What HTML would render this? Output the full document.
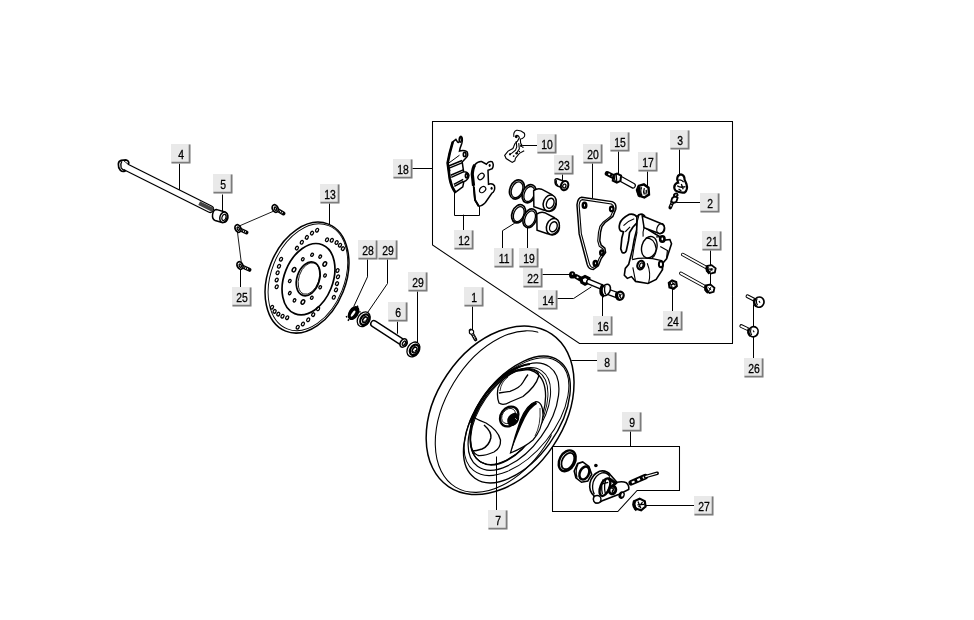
<!DOCTYPE html>
<html><head><meta charset="utf-8"><style>
html,body{margin:0;padding:0;background:#fff;}
svg{display:block;will-change:transform;}
.z *{vector-effect:non-scaling-stroke;}
text{font-family:"Liberation Sans",sans-serif;font-size:13px;fill:#000;}
</style></head><body>
<svg width="974" height="620" viewBox="0 0 974 620">
<rect width="974" height="620" fill="#fff"/>
<path d="M432.5 121.5 L732.5 121.5 L732.5 343.5 L579.5 343.5 L432.5 245.0 L432.5 121.5" stroke="#000" stroke-width="1.05" fill="none" stroke-linejoin="miter" stroke-linecap="square"/>
<path d="M179.5 164.0 L179.5 189.4" stroke="#000" stroke-width="1.0" fill="none" stroke-linejoin="miter" stroke-linecap="square"/>
<path d="M222.5 195.0 L222.5 210.6" stroke="#000" stroke-width="1.0" fill="none" stroke-linejoin="miter" stroke-linecap="square"/>
<path d="M329.5 203.0 L329.5 224.0" stroke="#000" stroke-width="1.0" fill="none" stroke-linejoin="miter" stroke-linecap="square"/>
<path d="M240.5 269.4 L240.5 288.0" stroke="#000" stroke-width="1.0" fill="none" stroke-linejoin="miter" stroke-linecap="square"/>
<path d="M367.5 259.0 L367.5 276.8 L354.0 306.0" stroke="#000" stroke-width="1.0" fill="none" stroke-linejoin="miter" stroke-linecap="square"/>
<path d="M387.5 259.0 L387.5 283.5 L368.2 311.7" stroke="#000" stroke-width="1.0" fill="none" stroke-linejoin="miter" stroke-linecap="square"/>
<path d="M397.5 322.0 L397.5 333.2" stroke="#000" stroke-width="1.0" fill="none" stroke-linejoin="miter" stroke-linecap="square"/>
<path d="M417.5 290.5 L417.5 343.4" stroke="#000" stroke-width="1.0" fill="none" stroke-linejoin="miter" stroke-linecap="square"/>
<path d="M412.5 168.5 L432.2 168.5" stroke="#000" stroke-width="1.0" fill="none" stroke-linejoin="miter" stroke-linecap="square"/>
<path d="M454.5 192.5 L454.5 215.5 L479.5 215.5 L479.5 204.9" stroke="#000" stroke-width="1.0" fill="none" stroke-linejoin="miter" stroke-linecap="square"/>
<path d="M463.5 215.2 L463.5 230.7" stroke="#000" stroke-width="1.0" fill="none" stroke-linejoin="miter" stroke-linecap="square"/>
<path d="M523.0 145.5 L537.7 145.5" stroke="#000" stroke-width="1.0" fill="none" stroke-linejoin="miter" stroke-linecap="square"/>
<path d="M562.5 174.5 L562.5 181.5" stroke="#000" stroke-width="1.0" fill="none" stroke-linejoin="miter" stroke-linecap="square"/>
<path d="M592.5 163.5 L592.5 197.5" stroke="#000" stroke-width="1.0" fill="none" stroke-linejoin="miter" stroke-linecap="square"/>
<path d="M502.5 248.0 L502.5 230.7 L514.3 223.4" stroke="#000" stroke-width="1.0" fill="none" stroke-linejoin="miter" stroke-linecap="square"/>
<path d="M527.5 248.0 L527.5 225.8" stroke="#000" stroke-width="1.0" fill="none" stroke-linejoin="miter" stroke-linecap="square"/>
<path d="M618.5 151.0 L618.5 175.5" stroke="#000" stroke-width="1.0" fill="none" stroke-linejoin="miter" stroke-linecap="square"/>
<path d="M647.5 171.5 L647.5 186.8" stroke="#000" stroke-width="1.0" fill="none" stroke-linejoin="miter" stroke-linecap="square"/>
<path d="M679.5 149.5 L679.5 175.5" stroke="#000" stroke-width="1.0" fill="none" stroke-linejoin="miter" stroke-linecap="square"/>
<path d="M677.5 202.5 L699.6 202.5" stroke="#000" stroke-width="1.0" fill="none" stroke-linejoin="miter" stroke-linecap="square"/>
<path d="M710.5 249.4 L710.5 289.4" stroke="#000" stroke-width="1.0" fill="none" stroke-linejoin="miter" stroke-linecap="square"/>
<path d="M541.2 274.5 L569.7 274.5" stroke="#000" stroke-width="1.0" fill="none" stroke-linejoin="miter" stroke-linecap="square"/>
<path d="M556.7 298.5 L573.6 298.5 L591.0 287.1" stroke="#000" stroke-width="1.0" fill="none" stroke-linejoin="miter" stroke-linecap="square"/>
<path d="M602.5 316.6 L602.5 293.9" stroke="#000" stroke-width="1.0" fill="none" stroke-linejoin="miter" stroke-linecap="square"/>
<path d="M672.5 289.4 L672.5 312.0" stroke="#000" stroke-width="1.0" fill="none" stroke-linejoin="miter" stroke-linecap="square"/>
<path d="M753.5 304.8 L753.5 358.0" stroke="#000" stroke-width="1.0" fill="none" stroke-linejoin="miter" stroke-linecap="square"/>
<path d="M472.5 306.4 L472.5 330.0" stroke="#000" stroke-width="1.0" fill="none" stroke-linejoin="miter" stroke-linecap="square"/>
<path d="M571.8 360.5 L597.5 360.5" stroke="#000" stroke-width="1.0" fill="none" stroke-linejoin="miter" stroke-linecap="square"/>
<path d="M496.5 457.0 L496.5 510.2" stroke="#000" stroke-width="1.0" fill="none" stroke-linejoin="miter" stroke-linecap="square"/>
<path d="M630.5 431.5 L630.5 446.1" stroke="#000" stroke-width="1.0" fill="none" stroke-linejoin="miter" stroke-linecap="square"/>
<path d="M644.9 505.5 L694.2 505.5" stroke="#000" stroke-width="1.0" fill="none" stroke-linejoin="miter" stroke-linecap="square"/>
<ellipse cx="500.1" cy="410.3" rx="92.1" ry="63.9" transform="rotate(-55.9 500.1 410.3)" stroke="#000" stroke-width="1.5" fill="none"/>
<clipPath id="tc"><path d="M534 300 L380 300 L380 540 L620 540 L620 438 L552 438 Z"/></clipPath>
<g clip-path="url(#tc)"><ellipse cx="501.1" cy="411.6" rx="88.2" ry="55.5" transform="rotate(-58.9 501.1 411.6)" stroke="#000" stroke-width="1.1" fill="none"/></g>
<ellipse cx="516.9" cy="419.5" rx="72.2" ry="40.5" transform="rotate(-54.4 516.9 419.5)" stroke="#000" stroke-width="1.4" fill="none"/>
<ellipse cx="516.5" cy="416.7" rx="68.8" ry="38.1" transform="rotate(-51.3 516.5 416.7)" stroke="#000" stroke-width="1.0" fill="none"/>
<ellipse cx="513.5" cy="416.6" rx="61.4" ry="34.1" transform="rotate(-54.1 513.5 416.6)" stroke="#000" stroke-width="1.2" fill="none"/>
<ellipse cx="510.6" cy="416.0" rx="54.8" ry="30.4" transform="rotate(-55.3 510.6 416.0)" stroke="#000" stroke-width="1.0" fill="none"/>
<ellipse cx="509.2" cy="416.5" rx="53.6" ry="30.6" transform="rotate(-57.3 509.2 416.5)" stroke="#000" stroke-width="0.9" fill="none"/>
<ellipse cx="507.8" cy="417.0" rx="52.5" ry="31.0" transform="rotate(-59.3 507.8 417.0)" stroke="#000" stroke-width="1.3" fill="none"/>
<path d="M471 423 Q478 398 500 378 Q515 366 530 364" stroke="#000" stroke-width="2.2" fill="none"/>
<path d="M498 388 Q503 376 517 371 L529.4 369.4 Q540 370 538.4 377 Q536 386 523 396.5 L510 402 Q503 406 499 403 Q496.5 397 498 388 Z" stroke="#000" stroke-width="1.3" fill="none"/>
<path d="M499 393 Q505 392 510 391.3 Q520 388 523 382.3 Q526 377 528 374.5" stroke="#000" stroke-width="1.3" fill="none"/>
<path d="M500 391 Q501 382 508 377" stroke="#000" stroke-width="0.8" fill="none"/>
<path d="M473 417 Q478 420 486 423 Q498 430 500.5 440 Q501 448 494 452 Q485 456 478 455.5 Q471 453 470.5 440 Q470 425 473 417 Z" stroke="#000" stroke-width="1.3" fill="none"/>
<path d="M484 425 Q492 432 490.8 438 Q489 446 482 449 Q476 451 472.4 451.1" stroke="#000" stroke-width="1.5" fill="none"/>
<path d="M536 401.5 Q527 404 520.5 420 Q515 436 510.5 453 Q525 447 533 440 Q542 430 543 415 Q543 402 536 401.5 Z" stroke="#000" stroke-width="1.2" fill="#fff"/>
<path d="M536 401.5 Q527 404 520.5 420 Q515 436 510.5 453 Q519 430 525 418 Q530 408 537 404 Z" fill="#000"/>
<path d="M540 408 Q541 425 535 436" stroke="#000" stroke-width="0.8" fill="none"/>
<ellipse cx="509.2" cy="416.5" rx="10.6" ry="8.4" transform="rotate(-55.0 509.2 416.5)" stroke="#000" stroke-width="2.3" fill="#fff"/>
<ellipse cx="508.6" cy="416.0" rx="8.2" ry="6.2" transform="rotate(-55.0 508.6 416.0)" stroke="#000" stroke-width="0.8" fill="none"/>
<ellipse cx="513.2" cy="419.4" rx="7.0" ry="5.4" transform="rotate(-55 513.2 419.4)" fill="#000"/>
<path d="M515 418 L517 420" stroke="#fff" stroke-width="0.6" fill="none"/>
<ellipse cx="307.0" cy="277.6" rx="57.6" ry="38.8" transform="rotate(-68.2 307.0 277.6)" stroke="#000" stroke-width="1.5" fill="none"/>
<ellipse cx="307.9" cy="277.3" rx="55.6" ry="36.6" transform="rotate(-68.2 307.9 277.3)" stroke="#000" stroke-width="0.9" fill="none"/>
<ellipse cx="308.5" cy="279.2" rx="37.1" ry="24.3" transform="rotate(-68.2 308.5 279.2)" stroke="#000" stroke-width="1.7" fill="none"/>
<ellipse cx="308.2" cy="278.8" rx="17.5" ry="11.2" transform="rotate(-71.7 308.2 278.8)" stroke="#000" stroke-width="1.7" fill="none"/>
<ellipse cx="308.9" cy="278.5" rx="16.3" ry="10.0" transform="rotate(-71.7 308.9 278.5)" stroke="#000" stroke-width="0.8" fill="none"/>
<ellipse cx="296.9" cy="248.1" rx="1.4" ry="1.9" transform="rotate(30.0 296.9 248.1)" stroke="#000" stroke-width="1.3" fill="none"/>
<ellipse cx="301.8" cy="242.3" rx="1.4" ry="1.9" transform="rotate(30.0 301.8 242.3)" stroke="#000" stroke-width="1.3" fill="none"/>
<ellipse cx="306.8" cy="237.4" rx="1.4" ry="1.9" transform="rotate(30.0 306.8 237.4)" stroke="#000" stroke-width="1.3" fill="none"/>
<ellipse cx="312.0" cy="233.1" rx="1.4" ry="1.9" transform="rotate(30.0 312.0 233.1)" stroke="#000" stroke-width="1.3" fill="none"/>
<ellipse cx="317.1" cy="230.2" rx="1.4" ry="1.9" transform="rotate(30.0 317.1 230.2)" stroke="#000" stroke-width="1.3" fill="none"/>
<ellipse cx="327.0" cy="239.8" rx="1.4" ry="1.9" transform="rotate(30.0 327.0 239.8)" stroke="#000" stroke-width="1.3" fill="none"/>
<ellipse cx="331.8" cy="240.3" rx="1.4" ry="1.9" transform="rotate(30.0 331.8 240.3)" stroke="#000" stroke-width="1.3" fill="none"/>
<ellipse cx="336.6" cy="242.5" rx="1.4" ry="1.9" transform="rotate(30.0 336.6 242.5)" stroke="#000" stroke-width="1.3" fill="none"/>
<ellipse cx="340.0" cy="245.2" rx="1.4" ry="1.9" transform="rotate(30.0 340.0 245.2)" stroke="#000" stroke-width="1.3" fill="none"/>
<ellipse cx="342.9" cy="248.6" rx="1.4" ry="1.9" transform="rotate(30.0 342.9 248.6)" stroke="#000" stroke-width="1.3" fill="none"/>
<ellipse cx="337.5" cy="270.5" rx="1.4" ry="1.9" transform="rotate(30.0 337.5 270.5)" stroke="#000" stroke-width="1.3" fill="none"/>
<ellipse cx="338.0" cy="276.8" rx="1.4" ry="1.9" transform="rotate(30.0 338.0 276.8)" stroke="#000" stroke-width="1.3" fill="none"/>
<ellipse cx="337.0" cy="283.6" rx="1.4" ry="1.9" transform="rotate(30.0 337.0 283.6)" stroke="#000" stroke-width="1.3" fill="none"/>
<ellipse cx="336.0" cy="289.9" rx="1.4" ry="1.9" transform="rotate(30.0 336.0 289.9)" stroke="#000" stroke-width="1.3" fill="none"/>
<ellipse cx="333.8" cy="297.3" rx="1.4" ry="1.9" transform="rotate(30.0 333.8 297.3)" stroke="#000" stroke-width="1.3" fill="none"/>
<ellipse cx="318.1" cy="308.8" rx="1.4" ry="1.9" transform="rotate(30.0 318.1 308.8)" stroke="#000" stroke-width="1.3" fill="none"/>
<ellipse cx="313.2" cy="314.6" rx="1.4" ry="1.9" transform="rotate(30.0 313.2 314.6)" stroke="#000" stroke-width="1.3" fill="none"/>
<ellipse cx="308.2" cy="319.8" rx="1.4" ry="1.9" transform="rotate(30.0 308.2 319.8)" stroke="#000" stroke-width="1.3" fill="none"/>
<ellipse cx="302.9" cy="324.0" rx="1.4" ry="1.9" transform="rotate(30.0 302.9 324.0)" stroke="#000" stroke-width="1.3" fill="none"/>
<ellipse cx="297.7" cy="327.2" rx="1.4" ry="1.9" transform="rotate(30.0 297.7 327.2)" stroke="#000" stroke-width="1.3" fill="none"/>
<ellipse cx="272.0" cy="307.2" rx="1.4" ry="1.9" transform="rotate(30.0 272.0 307.2)" stroke="#000" stroke-width="1.3" fill="none"/>
<ellipse cx="274.6" cy="311.4" rx="1.4" ry="1.9" transform="rotate(30.0 274.6 311.4)" stroke="#000" stroke-width="1.3" fill="none"/>
<ellipse cx="278.3" cy="314.1" rx="1.4" ry="1.9" transform="rotate(30.0 278.3 314.1)" stroke="#000" stroke-width="1.3" fill="none"/>
<ellipse cx="282.5" cy="316.2" rx="1.4" ry="1.9" transform="rotate(30.0 282.5 316.2)" stroke="#000" stroke-width="1.3" fill="none"/>
<ellipse cx="287.2" cy="317.7" rx="1.4" ry="1.9" transform="rotate(30.0 287.2 317.7)" stroke="#000" stroke-width="1.3" fill="none"/>
<ellipse cx="281.0" cy="259.2" rx="1.4" ry="1.9" transform="rotate(30.0 281.0 259.2)" stroke="#000" stroke-width="1.3" fill="none"/>
<ellipse cx="279.0" cy="266.3" rx="1.4" ry="1.9" transform="rotate(30.0 279.0 266.3)" stroke="#000" stroke-width="1.3" fill="none"/>
<ellipse cx="277.6" cy="272.8" rx="1.4" ry="1.9" transform="rotate(30.0 277.6 272.8)" stroke="#000" stroke-width="1.3" fill="none"/>
<ellipse cx="276.7" cy="280.0" rx="1.4" ry="1.9" transform="rotate(30.0 276.7 280.0)" stroke="#000" stroke-width="1.3" fill="none"/>
<ellipse cx="276.7" cy="286.8" rx="1.4" ry="1.9" transform="rotate(30.0 276.7 286.8)" stroke="#000" stroke-width="1.3" fill="none"/>
<ellipse cx="302.8" cy="259.2" rx="1.2" ry="1.7" transform="rotate(30.0 302.8 259.2)" stroke="#000" stroke-width="1.3" fill="none"/>
<ellipse cx="312.1" cy="254.8" rx="1.2" ry="1.7" transform="rotate(30.0 312.1 254.8)" stroke="#000" stroke-width="1.3" fill="none"/>
<ellipse cx="320.2" cy="256.6" rx="1.2" ry="1.7" transform="rotate(30.0 320.2 256.6)" stroke="#000" stroke-width="1.3" fill="none"/>
<ellipse cx="324.8" cy="264.0" rx="1.6" ry="2.3" transform="rotate(30.0 324.8 264.0)" stroke="#000" stroke-width="1.5" fill="none"/>
<ellipse cx="325.0" cy="275.5" rx="1.2" ry="1.7" transform="rotate(30.0 325.0 275.5)" stroke="#000" stroke-width="1.3" fill="none"/>
<ellipse cx="320.2" cy="287.3" rx="1.2" ry="1.7" transform="rotate(30.0 320.2 287.3)" stroke="#000" stroke-width="1.3" fill="none"/>
<ellipse cx="311.8" cy="297.8" rx="1.2" ry="1.7" transform="rotate(30.0 311.8 297.8)" stroke="#000" stroke-width="1.3" fill="none"/>
<ellipse cx="302.9" cy="302.0" rx="1.6" ry="2.3" transform="rotate(30.0 302.9 302.0)" stroke="#000" stroke-width="1.5" fill="none"/>
<ellipse cx="294.5" cy="300.4" rx="1.2" ry="1.7" transform="rotate(30.0 294.5 300.4)" stroke="#000" stroke-width="1.3" fill="none"/>
<ellipse cx="289.8" cy="293.1" rx="1.2" ry="1.7" transform="rotate(30.0 289.8 293.1)" stroke="#000" stroke-width="1.3" fill="none"/>
<ellipse cx="289.8" cy="281.0" rx="1.2" ry="1.7" transform="rotate(30.0 289.8 281.0)" stroke="#000" stroke-width="1.3" fill="none"/>
<ellipse cx="294.0" cy="269.7" rx="1.6" ry="2.3" transform="rotate(30.0 294.0 269.7)" stroke="#000" stroke-width="1.5" fill="none"/>
<path d="M126 167 L210 209" stroke="#000" stroke-width="8" stroke-linecap="round"/>
<path d="M126 167 L210 209" stroke="#fff" stroke-width="5.4" stroke-linecap="round"/>
<g class="z" transform="translate(112 152) scale(0.04032)">
<path d="M158 300 Q160 228 228 208 L350 198 Q412 214 418 272 L398 300 L298 440 L325 470 Q260 500 210 455 Q150 390 158 300 Z" fill="#fff"/>
<path d="M398 300 L418 272 Q412 214 350 198 L228 208 Q160 228 158 300 Q150 390 210 455 Q260 500 325 470 L300 440" stroke="#000" fill="none" stroke-width="1.7"/>
<path d="M245 232 Q198 300 226 385 Q250 436 300 452" stroke="#000" fill="none" stroke-width="1.3"/>
<path d="M290 215 Q330 250 395 300" stroke="#000" fill="none" stroke-width="0.9"/>
</g>
<path d="M201.0 204.0 L211.0 209.0" stroke="#444" stroke-width="4" fill="none" stroke-linejoin="miter" stroke-linecap="square"/>
<g class="z" transform="translate(110 150) scale(0.12903)">
<path d="M828 462 L886 478 Q918 490 914 525 Q906 566 868 562 L815 546 Q790 536 795 500 Q800 462 828 462 Z" stroke="#000" fill="#fff" stroke-width="1.5"/>
<ellipse cx="880" cy="521" rx="28" ry="41" transform="rotate(18 880 521)" stroke="#000" fill="#fff" stroke-width="1.5"/>
<ellipse cx="883" cy="523" rx="15" ry="25" transform="rotate(18 883 523)" stroke="#000" fill="none" stroke-width="1.2"/>
</g>
<path d="M552.5 446.5 L679.5 446.5 L679.5 490.5 L637.1 490.5 L617.8 511.5 L552.5 511.5 Z" stroke="#000" stroke-width="1.05" fill="#fff"/>
<path d="M237.4 226.8 L273.3 211.3" stroke="#000" stroke-width="0.9" fill="none" stroke-linejoin="miter" stroke-linecap="square"/>
<path d="M237.4 231.6 L241.3 262.6" stroke="#000" stroke-width="0.9" fill="none" stroke-linejoin="miter" stroke-linecap="square"/>
<path d="M275.2 208.5 L283.5 213.5" stroke="#000" stroke-width="4.0" stroke-linecap="round"/>
<path d="M276.7 209.3 L283.0 213.2" stroke="#fff" stroke-width="1.6" stroke-dasharray="0.9 1.1"/>
<ellipse cx="275.2" cy="208.5" rx="2.8" ry="3.9" transform="rotate(-25.0 275.2 208.5)" stroke="#000" stroke-width="1.8" fill="#fff"/>
<ellipse cx="275.5" cy="208.7" rx="1.0" ry="1.8" transform="rotate(-25.0 275.5 208.7)" stroke="#000" stroke-width="1.3" fill="none"/>
<path d="M238.0 228.5 L246.5 232.5" stroke="#000" stroke-width="4.0" stroke-linecap="round"/>
<path d="M239.5 229.3 L246.0 232.2" stroke="#fff" stroke-width="1.6" stroke-dasharray="0.9 1.1"/>
<ellipse cx="238.0" cy="228.5" rx="2.8" ry="3.9" transform="rotate(-25.0 238.0 228.5)" stroke="#000" stroke-width="1.8" fill="#fff"/>
<ellipse cx="238.3" cy="228.7" rx="1.0" ry="1.8" transform="rotate(-25.0 238.3 228.7)" stroke="#000" stroke-width="1.3" fill="none"/>
<path d="M240.0 265.5 L249.5 269.8" stroke="#000" stroke-width="4.0" stroke-linecap="round"/>
<path d="M241.5 266.3 L249.0 269.5" stroke="#fff" stroke-width="1.6" stroke-dasharray="0.9 1.1"/>
<ellipse cx="240.0" cy="265.5" rx="2.8" ry="3.9" transform="rotate(-25.0 240.0 265.5)" stroke="#000" stroke-width="1.8" fill="#fff"/>
<ellipse cx="240.3" cy="265.7" rx="1.0" ry="1.8" transform="rotate(-25.0 240.3 265.7)" stroke="#000" stroke-width="1.3" fill="none"/>
<g class="z" transform="translate(340 295) scale(0.11292)">
<ellipse cx="120" cy="160" rx="44" ry="68" transform="rotate(32 120 160)" fill="#000"/>
<ellipse cx="116" cy="165" rx="11" ry="32" transform="rotate(35 116 165)" fill="#fff"/>
<path d="M80 215 L70 228 M150 105 L160 95 M170 150 L182 148 M65 190 L52 195" stroke="#000" stroke-width="1.5"/>
<ellipse cx="210" cy="215" rx="52" ry="70" transform="rotate(32 210 215)" stroke="#000" stroke-width="1.3" fill="#fff"/>
<ellipse cx="219" cy="219" rx="36" ry="50" transform="rotate(32 219 219)" stroke="#000" stroke-width="2.2" fill="#fff"/>
<ellipse cx="221" cy="220" rx="18" ry="28" transform="rotate(32 221 220)" stroke="#000" stroke-width="1.6" fill="#fff"/>
<path d="M215 175 L225 195 M245 220 L225 225 M205 240 L220 230" stroke="#000" stroke-width="1" fill="none"/>
<path d="M300 255 L566 427" stroke="#000" stroke-width="7.6" stroke-linecap="round"/>
<path d="M300 255 L566 427" stroke="#fff" stroke-width="4.8" stroke-linecap="round"/>
<ellipse cx="562" cy="425" rx="27" ry="40" transform="rotate(32 562 425)" stroke="#000" stroke-width="1.6" fill="#fff"/>
<ellipse cx="566" cy="427" rx="11" ry="22" transform="rotate(32 566 427)" stroke="#000" stroke-width="1.3" fill="none"/>
<ellipse cx="650" cy="482" rx="52" ry="70" transform="rotate(32 650 482)" stroke="#000" stroke-width="1.3" fill="#fff"/>
<ellipse cx="659" cy="486" rx="36" ry="50" transform="rotate(32 659 486)" stroke="#000" stroke-width="2.2" fill="#fff"/>
<ellipse cx="661" cy="487" rx="18" ry="28" transform="rotate(32 661 487)" stroke="#000" stroke-width="1.6" fill="#fff"/>
<path d="M655 442 L665 462 M685 487 L665 492 M645 507 L660 497" stroke="#000" stroke-width="1" fill="none"/></g>
<g class="z" transform="translate(443 132) scale(0.10309)">
<path d="M95 95 L125 72 L140 95 Q150 112 158 90 Q152 50 175 42 Q197 55 182 112 L165 160 L160 185 Q200 172 232 190 Q252 225 222 252 L186 290 L200 385 Q240 383 252 420 Q248 466 202 482 L192 532 L120 586 Q80 530 65 450 L45 300 Q60 210 95 95 Z" stroke="#000" fill="#fff" stroke-width="1.5"/>
<path d="M95 95 Q60 210 45 300 L65 450 Q80 530 120 586" stroke="#000" stroke-width="2.6" fill="none"/>
<path d="M55 330 L185 277 M60 350 L190 297 M75 420 L196 367 M80 440 L198 387 M105 508 L196 460 M110 528 L197 480" stroke="#000" fill="none" stroke-width="1.5"/>
<path d="M58 300 L160 225 M52 320 L70 380" stroke="#000" fill="none" stroke-width="1"/>
<ellipse cx="210" cy="218" rx="13" ry="20" stroke="#000" fill="none" stroke-width="1.6"/>
<ellipse cx="230" cy="425" rx="12" ry="20" stroke="#000" fill="none" stroke-width="1.8"/>
<ellipse cx="172" cy="76" rx="9" ry="24" transform="rotate(10 172 76)" stroke="#000" fill="none" stroke-width="1.3"/>
</g>
<g class="z" transform="translate(440 130) scale(0.12903)">
<path d="M270 270 Q292 243 322 245 L360 265 Q378 238 402 245 Q422 268 405 300 L372 312 L376 420 Q408 410 422 432 Q432 472 400 492 L352 562 Q322 592 300 590 L270 542 L260 432 L250 342 Q254 292 270 270 Z" stroke="#000" fill="#fff" stroke-width="1.5"/>
<path d="M270 270 Q254 292 250 342 L260 432" stroke="#000" stroke-width="3.2" fill="none"/>
<path d="M262 440 L272 542 L300 590" stroke="#000" stroke-width="2" fill="none"/>
<ellipse cx="318" cy="360" rx="28" ry="20" transform="rotate(-45 318 360)" stroke="#000" fill="none" stroke-width="1.2"/>
<ellipse cx="330" cy="462" rx="28" ry="20" transform="rotate(-45 330 462)" stroke="#000" fill="none" stroke-width="1.2"/>
<ellipse cx="385" cy="275" rx="8" ry="11" fill="#000"/>
<ellipse cx="400" cy="452" rx="8" ry="12" fill="#000"/>
</g>
<g class="z" transform="translate(500 125) scale(0.06452)">
<path d="M215 185 Q200 105 258 82 Q325 78 378 128 Q398 182 345 208 L315 218 L320 280 L345 330" stroke="#000" fill="none" stroke-width="1.1"/>
<path d="M245 165 Q290 150 300 200 L270 250 L230 290 L215 330 L200 365 L125 405 L72 470 L95 520 L190 580 L230 555 L240 515 L300 440 L375 398" stroke="#000" fill="none" stroke-width="1.1"/>
<path d="M250 250 L260 340 L240 390 L180 440 L150 455 M290 280 L300 370 L260 430" stroke="#000" fill="none" stroke-width="1.1"/>
<circle cx="252" cy="182" r="22" fill="#000"/><circle cx="330" cy="322" r="20" fill="#000"/><circle cx="355" cy="345" r="12" fill="#000"/>
<circle cx="258" cy="438" r="20" fill="#000"/><circle cx="155" cy="455" r="17" fill="#000"/><circle cx="212" cy="482" r="14" fill="#000"/><circle cx="300" cy="410" r="12" fill="#000"/>
</g>
<g class="z" transform="translate(500 170) scale(0.11291)"><ellipse cx="150" cy="172" rx="62" ry="88" transform="rotate(22 150 172)" stroke="#000" fill="#fff" stroke-width="1.7"/>
<ellipse cx="152" cy="174" rx="48" ry="73" transform="rotate(22 150 172)" stroke="#000" fill="none" stroke-width="1.3"/><ellipse cx="258" cy="210" rx="58" ry="84" transform="rotate(22 258 210)" stroke="#000" fill="#fff" stroke-width="1.7"/>
<ellipse cx="260" cy="212" rx="44" ry="69" transform="rotate(22 258 210)" stroke="#000" fill="none" stroke-width="1.3"/><g transform="translate(0 0)">
<path d="M298 182 Q330 160 368 170 L455 215 Q502 250 498 305 Q490 362 435 368 Q415 368 392 356 L300 325 Z" stroke="#000" fill="#fff" stroke-width="1.5"/>
<ellipse cx="440" cy="292" rx="55" ry="73" transform="rotate(22 440 292)" stroke="#000" fill="#fff" stroke-width="1.5"/>
<ellipse cx="445" cy="295" rx="32" ry="46" transform="rotate(22 445 295)" stroke="#000" fill="none" stroke-width="1.4"/>
</g><ellipse cx="165" cy="388" rx="58" ry="84" transform="rotate(22 165 388)" stroke="#000" fill="#fff" stroke-width="1.7"/>
<ellipse cx="167" cy="390" rx="44" ry="69" transform="rotate(22 165 388)" stroke="#000" fill="none" stroke-width="1.3"/><ellipse cx="265" cy="428" rx="58" ry="86" transform="rotate(22 265 428)" stroke="#000" fill="#fff" stroke-width="1.7"/>
<ellipse cx="267" cy="430" rx="44" ry="71" transform="rotate(22 265 428)" stroke="#000" fill="none" stroke-width="1.3"/><g transform="translate(28 208)">
<path d="M298 182 Q330 160 368 170 L455 215 Q502 250 498 305 Q490 362 435 368 Q415 368 392 356 L300 325 Z" stroke="#000" fill="#fff" stroke-width="1.5"/>
<ellipse cx="440" cy="292" rx="55" ry="73" transform="rotate(22 440 292)" stroke="#000" fill="#fff" stroke-width="1.5"/>
<ellipse cx="445" cy="295" rx="32" ry="46" transform="rotate(22 445 295)" stroke="#000" fill="none" stroke-width="1.4"/>
</g><path d="M488 98 Q483 75 508 78 L572 102 L585 168 L510 142 Q485 128 488 98 Z" stroke="#000" fill="#fff" stroke-width="1.6"/>
<path d="M500 90 Q492 115 512 138" stroke="#000" fill="none" stroke-width="1.1"/>
<ellipse cx="572" cy="138" rx="32" ry="42" transform="rotate(20 572 138)" stroke="#000" fill="#fff" stroke-width="2"/>
<ellipse cx="570" cy="142" rx="14" ry="18" transform="rotate(20 570 142)" stroke="#000" fill="none" stroke-width="1.3"/></g>
<g class="z" transform="translate(570 190) scale(0.14529)">
<path d="M80 50 L290 80 Q322 92 315 132 L295 182 L265 205 L240 225 L220 252 L210 292 L205 350 L215 380 L240 400 L245 430 L215 472 L195 522 L160 547 Q128 547 118 512 L63 302 L48 102 Q53 53 80 50 Z" stroke="#000" fill="#fff" stroke-width="1.5"/>
<path d="M85 66 L285 96 Q305 106 300 135 L280 180 L255 200 L228 222 L206 250 L196 292 L191 350 L201 386 L228 406 L230 428 L202 468 L182 515 L158 533 Q140 533 133 505 L78 300 L63 105 Q66 70 85 66 Z" stroke="#000" fill="none" stroke-width="1.1"/>
<ellipse cx="100" cy="105" rx="12" ry="18" stroke="#000" fill="none" stroke-width="2.5"/>
<ellipse cx="287" cy="130" rx="12" ry="16" stroke="#000" fill="none" stroke-width="2.2"/>
<ellipse cx="220" cy="432" rx="12" ry="16" stroke="#000" fill="none" stroke-width="2.5"/>
<ellipse cx="175" cy="505" rx="12" ry="16" stroke="#000" fill="none" stroke-width="2.5"/>
</g>
<g class="z" transform="translate(615 205) scale(0.13717)">
<path d="M35 135 Q45 100 105 68 Q145 62 162 90 L165 125 L130 162 L106 200 L98 262 L82 335 Q72 356 52 346 L42 320 L50 240 L62 196 L40 188 Q25 170 35 135 Z" stroke="#000" fill="#fff" stroke-width="1.7"/>
<path d="M62 150 Q95 115 140 100 M75 195 L110 160" stroke="#000" fill="none" stroke-width="1.1"/>
<path d="M160 85 Q175 62 200 68 L215 78 L212 160 L300 215 L330 232 L362 256 L400 252 L412 282 L396 332 L376 392 L350 422 L346 472 L300 542 L240 572 L150 557 L120 522 L90 535 L68 512 L75 462 L100 432 L112 385 L128 320 L140 250 L158 180 Z" stroke="#000" fill="#fff" stroke-width="1.6"/>
<path d="M175 72 Q150 150 160 200 L140 300 L125 395" stroke="#000" fill="none" stroke-width="1.1"/>
<path d="M198 78 L335 135 Q370 150 360 186 Q350 212 318 206 L212 165 Z" stroke="#000" fill="#fff" stroke-width="1.5"/>
<ellipse cx="332" cy="172" rx="26" ry="38" transform="rotate(20 332 172)" stroke="#000" fill="none" stroke-width="1.3"/>
<path d="M212 165 Q200 200 205 230" stroke="#000" fill="none" stroke-width="1.1"/>
<ellipse cx="250" cy="308" rx="55" ry="80" transform="rotate(15 250 308)" stroke="#000" fill="#fff" stroke-width="1.4"/>
<path d="M225 240 Q290 240 300 320 Q300 370 270 385" stroke="#000" fill="none" stroke-width="1.1"/>
<path d="M300 232 L330 232 M330 302 L382 332 L376 392" stroke="#000" fill="none" stroke-width="1.2"/>
<ellipse cx="345" cy="248" rx="16" ry="20" stroke="#000" stroke-width="2.6" fill="#fff"/>
<path d="M125 398 Q220 375 340 405 L346 472" stroke="#000" fill="none" stroke-width="1.3"/>
<ellipse cx="188" cy="438" rx="24" ry="32" transform="rotate(20 188 438)" stroke="#000" stroke-width="2.2" fill="#fff"/>
<ellipse cx="192" cy="440" rx="12" ry="18" transform="rotate(20 192 440)" stroke="#000" fill="none" stroke-width="1.2"/>
<path d="M130 455 L150 557 M235 425 Q265 500 245 572" stroke="#000" fill="none" stroke-width="1.1"/>
<ellipse cx="335" cy="432" rx="15" ry="22" stroke="#000" stroke-width="2" fill="#fff"/>
</g>
<g class="z" transform="translate(600 165) scale(0.09242)">
<path d="M78 92 L158 132" stroke="#000" stroke-width="5" stroke-linecap="round"/>
<path d="M90 96 L150 126" stroke="#fff" stroke-width="1.6" stroke-dasharray="2 2"/>
<path d="M205 140 L356 222" stroke="#000" stroke-width="6" stroke-linecap="round"/>
<path d="M205 140 L356 222" stroke="#fff" stroke-width="3.6" stroke-linecap="round"/>
<path d="M145 108 L185 92 L228 115 L222 172 L182 192 L138 170 Z" stroke="#000" fill="#fff" stroke-width="2"/>
<path d="M175 100 L182 185 M160 110 Q150 150 170 185" stroke="#000" fill="none" stroke-width="1.2"/>
<path d="M420 225 L475 210 L525 245 L530 320 L480 352 L420 330 L400 270 Z" stroke="#000" stroke-width="2.4" fill="#fff"/>
<path d="M425 235 Q400 290 440 340" stroke="#000" stroke-width="3.5" fill="none"/>
<path d="M450 240 Q430 290 455 330 M480 250 Q465 290 480 320 M500 270 Q505 300 495 320" stroke="#000" fill="none" stroke-width="1.3"/>
<path d="M835 155 Q835 108 875 102 Q915 108 915 158 L935 205 Q955 270 915 298 Q860 305 818 278 Q792 245 812 212 Q825 190 845 190 Z" stroke="#000" fill="#fff" stroke-width="2.2"/>
<path d="M845 165 Q880 150 905 185 M835 225 Q870 250 925 235 M880 205 L900 262 M850 260 L880 280" stroke="#000" fill="none" stroke-width="1.3"/>
<path d="M760 460 L790 390" stroke="#000" stroke-width="3.6" stroke-linecap="round"/>
<path d="M765 448 L785 400" stroke="#fff" stroke-width="1.2" stroke-dasharray="1.5 1.5"/>
<path d="M780 360 L810 335 L840 355 L825 400 L795 410 L770 395 Z" stroke="#000" fill="#fff" stroke-width="1.8"/>
<ellipse cx="820" cy="325" rx="20" ry="16" transform="rotate(-30 820 325)" stroke="#000" fill="#fff" stroke-width="1.8"/>
</g>
<g class="z" transform="translate(660 245) scale(0.08065)">
<path d="M282 118 L585 285" stroke="#000" stroke-width="3.5" stroke-linecap="round"/>
<path d="M282 118 L585 285" stroke="#fff" stroke-width="1.8" stroke-linecap="round"/>
<path d="M258 352 L565 520" stroke="#000" stroke-width="3.5" stroke-linecap="round"/>
<path d="M258 352 L565 520" stroke="#fff" stroke-width="1.8" stroke-linecap="round"/>
<path d="M585 260 L640 250 L690 290 L680 340 L630 355 L580 320 Z" stroke="#000" stroke-width="1.8" fill="#fff"/>
<path d="M588 262 Q570 310 615 350" stroke="#000" stroke-width="3.2" fill="none"/>
<path d="M615 290 L650 320 M645 285 L625 330 M600 300 L660 300" stroke="#000" fill="none" stroke-width="1"/>
<path d="M568 500 L625 490 L675 530 L665 580 L615 595 L563 560 Z" stroke="#000" stroke-width="1.8" fill="#fff"/>
<path d="M571 502 Q553 550 600 590" stroke="#000" stroke-width="3.2" fill="none"/>
<path d="M600 528 L635 558 M630 523 L610 568" stroke="#000" fill="none" stroke-width="1"/>
<path d="M110 470 L150 440 L200 460 L208 510 L170 542 L118 525 Z" stroke="#000" stroke-width="2.2" fill="#fff"/>
<path d="M125 470 L150 520 M150 465 L190 500 M135 500 L180 475" stroke="#000" fill="none" stroke-width="1.2"/>
</g>
<g class="z" transform="translate(565 265) scale(0.06676)">
<ellipse cx="108" cy="148" rx="48" ry="55" fill="#000"/>
<ellipse cx="112" cy="135" rx="12" ry="10" fill="#fff"/>
<path d="M170 175 L260 225" stroke="#000" stroke-width="5" stroke-linecap="round"/>
<path d="M175 178 L255 222" stroke="#fff" stroke-width="1.5" stroke-dasharray="2 3"/>
<path d="M245 200 L300 170 L360 200 L355 260 L300 290 L250 260 Z" stroke="#000" fill="#fff" stroke-width="3"/>
<path d="M360 250 L550 330" stroke="#000" stroke-width="6" stroke-linecap="round"/>
<path d="M360 250 L550 330" stroke="#fff" stroke-width="3.2" stroke-linecap="round"/>
<path d="M640 400 L790 455" stroke="#000" stroke-width="6.5" stroke-linecap="round"/>
<path d="M640 400 L790 455" stroke="#fff" stroke-width="4" stroke-linecap="round"/>
<ellipse cx="613" cy="374" rx="62" ry="90" transform="rotate(25 613 374)" stroke="#000" stroke-width="1.6" fill="#fff"/>
<path d="M570 295 Q525 335 538 425 Q552 462 585 465" stroke="#000" stroke-width="2.8" fill="none"/>
<path d="M560 320 Q540 400 580 460 M600 310 Q580 390 610 440" stroke="#000" fill="none" stroke-width="1.3"/>
<ellipse cx="823" cy="460" rx="55" ry="62" transform="rotate(25 823 460)" stroke="#000" stroke-width="2.2" fill="#fff"/>
<path d="M785 410 Q755 460 800 515" stroke="#000" stroke-width="3" fill="none"/>
<path d="M810 430 L835 495 M845 430 L815 480" stroke="#000" fill="none" stroke-width="1.1"/>
</g>
<g class="z" transform="translate(720 280) scale(0.17721)"><path d="M155 92 L196 113" stroke="#000" stroke-width="3.8" stroke-linecap="round"/>
<path d="M155 92 L196 113" stroke="#fff" stroke-width="1.8" stroke-linecap="round"/>
<ellipse cx="221" cy="125" rx="27" ry="29" transform="rotate(20 221 125)" stroke="#000" stroke-width="1.7" fill="#fff"/>
<path d="M196 107 Q186 131 204 149" stroke="#000" stroke-width="2.4" fill="none"/>
<path d="M210 105 Q200 123 212 143 M220 118 L226 128" stroke="#000" stroke-width="1.1" fill="none"/><path d="M120 260 L163 280" stroke="#000" stroke-width="3.8" stroke-linecap="round"/>
<path d="M120 260 L163 280" stroke="#fff" stroke-width="1.8" stroke-linecap="round"/>
<ellipse cx="188" cy="292" rx="27" ry="29" transform="rotate(20 188 292)" stroke="#000" stroke-width="1.7" fill="#fff"/>
<path d="M163 274 Q153 298 171 316" stroke="#000" stroke-width="2.4" fill="none"/>
<path d="M177 272 Q167 290 179 310 M187 285 L193 295" stroke="#000" stroke-width="1.1" fill="none"/></g>
<g class="z" transform="translate(555 445) scale(0.11293)">
<ellipse cx="108" cy="140" rx="68" ry="98" transform="rotate(28 108 140)" stroke="#000" stroke-width="2.4" fill="#fff"/>
<ellipse cx="114" cy="142" rx="50" ry="78" transform="rotate(28 114 142)" stroke="#000" stroke-width="1.8" fill="none"/>
<path d="M200 165 L245 150 L300 190 L325 260 L290 320 L235 330 L185 290 L170 230 Z" stroke="#000" fill="#fff" stroke-width="1.6"/>
<ellipse cx="260" cy="248" rx="40" ry="60" transform="rotate(25 260 248)" stroke="#000" stroke-width="2.5" fill="#fff"/>
<path d="M205 170 Q175 220 195 290" stroke="#000" fill="none" stroke-width="1.2"/>
<circle cx="362" cy="182" r="16" fill="#000"/>
<path d="M675 335 L800 280" stroke="#000" stroke-width="5.5" stroke-linecap="round"/>
<path d="M680 333 L795 283" stroke="#fff" stroke-width="2" stroke-dasharray="3 3"/>
<path d="M800 280 L905 250" stroke="#000" stroke-width="3.5" stroke-linecap="round"/>
<path d="M800 280 L905 250" stroke="#fff" stroke-width="1.2"/>
<path d="M705 495 L750 475 L795 498 L802 545 L763 578 L715 563 L697 530 Z" stroke="#000" stroke-width="2.2" fill="#fff"/>
<path d="M705 495 Q685 545 725 575" stroke="#000" stroke-width="3.2" fill="none"/>
<path d="M735 500 L760 560 M775 505 L740 550 M730 530 L790 525" stroke="#000" fill="none" stroke-width="1.3"/>
</g>
<g class="z" transform="translate(585 465) scale(0.07257)">
<path d="M125 425 Q50 360 68 250 Q95 130 200 85 Q295 65 355 140 L440 238 Q520 222 570 245 Q612 280 602 338 L470 402 L230 497 Q190 530 140 520 Q105 490 125 425 Z" stroke="#000" fill="#fff" stroke-width="1.6"/>
<path d="M128 405 Q92 330 112 240 Q145 140 232 110 Q305 95 342 160" stroke="#000" fill="none" stroke-width="1.3"/>
<ellipse cx="275" cy="305" rx="62" ry="128" transform="rotate(22 275 305)" stroke="#000" stroke-width="2.4" fill="#fff"/>
<path d="M250 200 Q215 290 240 400 M290 190 Q255 290 280 390 M235 260 L320 240" stroke="#000" fill="none" stroke-width="1.3"/>
<path d="M320 180 L420 250 L380 290" stroke="#000" stroke-width="3" fill="none"/>
<ellipse cx="378" cy="345" rx="46" ry="54" transform="rotate(20 378 345)" stroke="#000" stroke-width="2.8" fill="#fff"/>
<path d="M360 320 Q395 310 390 345 Q365 360 390 380" stroke="#000" fill="none" stroke-width="1.5"/>
<circle cx="168" cy="472" r="52" stroke="#000" fill="#fff" stroke-width="1.4"/>
<ellipse cx="505" cy="415" rx="42" ry="52" transform="rotate(20 505 415)" fill="#000"/>
<ellipse cx="515" cy="412" rx="14" ry="26" transform="rotate(20 515 412)" fill="#fff"/>
</g>
<path d="M470.5 330.5 L475.5 339.5" stroke="#000" stroke-width="3.6" stroke-linecap="round"/>
<path d="M470.5 330.5 L475.5 339.5" stroke="#fff" stroke-width="1.4" stroke-dasharray="1 1"/>
<circle cx="471.5" cy="332" r="2.2" stroke="#000" stroke-width="1.1" fill="#fff"/>
<g transform="translate(171,144)"><rect x="0" y="0" width="19.5" height="19.5" fill="#e9e9e9"/><path d="M18.6 0.5 L18.6 18.6 L0.5 18.6" stroke="#7c7c7c" stroke-width="1.8" fill="none"/><text transform="translate(10.05 15.25) scale(0.8 1)" text-anchor="middle" stroke="#000" stroke-width="0.3">4</text></g>
<g transform="translate(213,174)"><rect x="0" y="0" width="19.5" height="19.5" fill="#e9e9e9"/><path d="M18.6 0.5 L18.6 18.6 L0.5 18.6" stroke="#7c7c7c" stroke-width="1.8" fill="none"/><text transform="translate(10.05 15.25) scale(0.8 1)" text-anchor="middle" stroke="#000" stroke-width="0.3">5</text></g>
<g transform="translate(320,184)"><rect x="0" y="0" width="19.5" height="19.5" fill="#e9e9e9"/><path d="M18.6 0.5 L18.6 18.6 L0.5 18.6" stroke="#7c7c7c" stroke-width="1.8" fill="none"/><text transform="translate(10.05 15.25) scale(0.8 1)" text-anchor="middle" stroke="#000" stroke-width="0.3">13</text></g>
<g transform="translate(232,287)"><rect x="0" y="0" width="19.5" height="19.5" fill="#e9e9e9"/><path d="M18.6 0.5 L18.6 18.6 L0.5 18.6" stroke="#7c7c7c" stroke-width="1.8" fill="none"/><text transform="translate(10.05 15.25) scale(0.8 1)" text-anchor="middle" stroke="#000" stroke-width="0.3">25</text></g>
<g transform="translate(358,240)"><rect x="0" y="0" width="19.5" height="19.5" fill="#e9e9e9"/><path d="M18.6 0.5 L18.6 18.6 L0.5 18.6" stroke="#7c7c7c" stroke-width="1.8" fill="none"/><text transform="translate(10.05 15.25) scale(0.8 1)" text-anchor="middle" stroke="#000" stroke-width="0.3">28</text></g>
<g transform="translate(378,240)"><rect x="0" y="0" width="19.5" height="19.5" fill="#e9e9e9"/><path d="M18.6 0.5 L18.6 18.6 L0.5 18.6" stroke="#7c7c7c" stroke-width="1.8" fill="none"/><text transform="translate(10.05 15.25) scale(0.8 1)" text-anchor="middle" stroke="#000" stroke-width="0.3">29</text></g>
<g transform="translate(388,302)"><rect x="0" y="0" width="19.5" height="19.5" fill="#e9e9e9"/><path d="M18.6 0.5 L18.6 18.6 L0.5 18.6" stroke="#7c7c7c" stroke-width="1.8" fill="none"/><text transform="translate(10.05 15.25) scale(0.8 1)" text-anchor="middle" stroke="#000" stroke-width="0.3">6</text></g>
<g transform="translate(408,272)"><rect x="0" y="0" width="19.5" height="19.5" fill="#e9e9e9"/><path d="M18.6 0.5 L18.6 18.6 L0.5 18.6" stroke="#7c7c7c" stroke-width="1.8" fill="none"/><text transform="translate(10.05 15.25) scale(0.8 1)" text-anchor="middle" stroke="#000" stroke-width="0.3">29</text></g>
<g transform="translate(393,159)"><rect x="0" y="0" width="19.5" height="19.5" fill="#e9e9e9"/><path d="M18.6 0.5 L18.6 18.6 L0.5 18.6" stroke="#7c7c7c" stroke-width="1.8" fill="none"/><text transform="translate(10.05 15.25) scale(0.8 1)" text-anchor="middle" stroke="#000" stroke-width="0.3">18</text></g>
<g transform="translate(454,230)"><rect x="0" y="0" width="19.5" height="19.5" fill="#e9e9e9"/><path d="M18.6 0.5 L18.6 18.6 L0.5 18.6" stroke="#7c7c7c" stroke-width="1.8" fill="none"/><text transform="translate(10.05 15.25) scale(0.8 1)" text-anchor="middle" stroke="#000" stroke-width="0.3">12</text></g>
<g transform="translate(537,134)"><rect x="0" y="0" width="19.5" height="19.5" fill="#e9e9e9"/><path d="M18.6 0.5 L18.6 18.6 L0.5 18.6" stroke="#7c7c7c" stroke-width="1.8" fill="none"/><text transform="translate(10.05 15.25) scale(0.8 1)" text-anchor="middle" stroke="#000" stroke-width="0.3">10</text></g>
<g transform="translate(554,155)"><rect x="0" y="0" width="19.5" height="19.5" fill="#e9e9e9"/><path d="M18.6 0.5 L18.6 18.6 L0.5 18.6" stroke="#7c7c7c" stroke-width="1.8" fill="none"/><text transform="translate(10.05 15.25) scale(0.8 1)" text-anchor="middle" stroke="#000" stroke-width="0.3">23</text></g>
<g transform="translate(494,248)"><rect x="0" y="0" width="19.5" height="19.5" fill="#e9e9e9"/><path d="M18.6 0.5 L18.6 18.6 L0.5 18.6" stroke="#7c7c7c" stroke-width="1.8" fill="none"/><text transform="translate(10.05 15.25) scale(0.8 1)" text-anchor="middle" stroke="#000" stroke-width="0.3">11</text></g>
<g transform="translate(519,248)"><rect x="0" y="0" width="19.5" height="19.5" fill="#e9e9e9"/><path d="M18.6 0.5 L18.6 18.6 L0.5 18.6" stroke="#7c7c7c" stroke-width="1.8" fill="none"/><text transform="translate(10.05 15.25) scale(0.8 1)" text-anchor="middle" stroke="#000" stroke-width="0.3">19</text></g>
<g transform="translate(583,144)"><rect x="0" y="0" width="19.5" height="19.5" fill="#e9e9e9"/><path d="M18.6 0.5 L18.6 18.6 L0.5 18.6" stroke="#7c7c7c" stroke-width="1.8" fill="none"/><text transform="translate(10.05 15.25) scale(0.8 1)" text-anchor="middle" stroke="#000" stroke-width="0.3">20</text></g>
<g transform="translate(610,132)"><rect x="0" y="0" width="19.5" height="19.5" fill="#e9e9e9"/><path d="M18.6 0.5 L18.6 18.6 L0.5 18.6" stroke="#7c7c7c" stroke-width="1.8" fill="none"/><text transform="translate(10.05 15.25) scale(0.8 1)" text-anchor="middle" stroke="#000" stroke-width="0.3">15</text></g>
<g transform="translate(638,152)"><rect x="0" y="0" width="19.5" height="19.5" fill="#e9e9e9"/><path d="M18.6 0.5 L18.6 18.6 L0.5 18.6" stroke="#7c7c7c" stroke-width="1.8" fill="none"/><text transform="translate(10.05 15.25) scale(0.8 1)" text-anchor="middle" stroke="#000" stroke-width="0.3">17</text></g>
<g transform="translate(670,130)"><rect x="0" y="0" width="19.5" height="19.5" fill="#e9e9e9"/><path d="M18.6 0.5 L18.6 18.6 L0.5 18.6" stroke="#7c7c7c" stroke-width="1.8" fill="none"/><text transform="translate(10.05 15.25) scale(0.8 1)" text-anchor="middle" stroke="#000" stroke-width="0.3">3</text></g>
<g transform="translate(700,193)"><rect x="0" y="0" width="19.5" height="19.5" fill="#e9e9e9"/><path d="M18.6 0.5 L18.6 18.6 L0.5 18.6" stroke="#7c7c7c" stroke-width="1.8" fill="none"/><text transform="translate(10.05 15.25) scale(0.8 1)" text-anchor="middle" stroke="#000" stroke-width="0.3">2</text></g>
<g transform="translate(702,231)"><rect x="0" y="0" width="19.5" height="19.5" fill="#e9e9e9"/><path d="M18.6 0.5 L18.6 18.6 L0.5 18.6" stroke="#7c7c7c" stroke-width="1.8" fill="none"/><text transform="translate(10.05 15.25) scale(0.8 1)" text-anchor="middle" stroke="#000" stroke-width="0.3">21</text></g>
<g transform="translate(523,268)"><rect x="0" y="0" width="19.5" height="19.5" fill="#e9e9e9"/><path d="M18.6 0.5 L18.6 18.6 L0.5 18.6" stroke="#7c7c7c" stroke-width="1.8" fill="none"/><text transform="translate(10.05 15.25) scale(0.8 1)" text-anchor="middle" stroke="#000" stroke-width="0.3">22</text></g>
<g transform="translate(538,290)"><rect x="0" y="0" width="19.5" height="19.5" fill="#e9e9e9"/><path d="M18.6 0.5 L18.6 18.6 L0.5 18.6" stroke="#7c7c7c" stroke-width="1.8" fill="none"/><text transform="translate(10.05 15.25) scale(0.8 1)" text-anchor="middle" stroke="#000" stroke-width="0.3">14</text></g>
<g transform="translate(593,316)"><rect x="0" y="0" width="19.5" height="19.5" fill="#e9e9e9"/><path d="M18.6 0.5 L18.6 18.6 L0.5 18.6" stroke="#7c7c7c" stroke-width="1.8" fill="none"/><text transform="translate(10.05 15.25) scale(0.8 1)" text-anchor="middle" stroke="#000" stroke-width="0.3">16</text></g>
<g transform="translate(663,311)"><rect x="0" y="0" width="19.5" height="19.5" fill="#e9e9e9"/><path d="M18.6 0.5 L18.6 18.6 L0.5 18.6" stroke="#7c7c7c" stroke-width="1.8" fill="none"/><text transform="translate(10.05 15.25) scale(0.8 1)" text-anchor="middle" stroke="#000" stroke-width="0.3">24</text></g>
<g transform="translate(744,358)"><rect x="0" y="0" width="19.5" height="19.5" fill="#e9e9e9"/><path d="M18.6 0.5 L18.6 18.6 L0.5 18.6" stroke="#7c7c7c" stroke-width="1.8" fill="none"/><text transform="translate(10.05 15.25) scale(0.8 1)" text-anchor="middle" stroke="#000" stroke-width="0.3">26</text></g>
<g transform="translate(464,287)"><rect x="0" y="0" width="19.5" height="19.5" fill="#e9e9e9"/><path d="M18.6 0.5 L18.6 18.6 L0.5 18.6" stroke="#7c7c7c" stroke-width="1.8" fill="none"/><text transform="translate(10.05 15.25) scale(0.8 1)" text-anchor="middle" stroke="#000" stroke-width="0.3">1</text></g>
<g transform="translate(597,352)"><rect x="0" y="0" width="19.5" height="19.5" fill="#e9e9e9"/><path d="M18.6 0.5 L18.6 18.6 L0.5 18.6" stroke="#7c7c7c" stroke-width="1.8" fill="none"/><text transform="translate(10.05 15.25) scale(0.8 1)" text-anchor="middle" stroke="#000" stroke-width="0.3">8</text></g>
<g transform="translate(488,510)"><rect x="0" y="0" width="19.5" height="19.5" fill="#e9e9e9"/><path d="M18.6 0.5 L18.6 18.6 L0.5 18.6" stroke="#7c7c7c" stroke-width="1.8" fill="none"/><text transform="translate(10.05 15.25) scale(0.8 1)" text-anchor="middle" stroke="#000" stroke-width="0.3">7</text></g>
<g transform="translate(622,412)"><rect x="0" y="0" width="19.5" height="19.5" fill="#e9e9e9"/><path d="M18.6 0.5 L18.6 18.6 L0.5 18.6" stroke="#7c7c7c" stroke-width="1.8" fill="none"/><text transform="translate(10.05 15.25) scale(0.8 1)" text-anchor="middle" stroke="#000" stroke-width="0.3">9</text></g>
<g transform="translate(694,496)"><rect x="0" y="0" width="19.5" height="19.5" fill="#e9e9e9"/><path d="M18.6 0.5 L18.6 18.6 L0.5 18.6" stroke="#7c7c7c" stroke-width="1.8" fill="none"/><text transform="translate(10.05 15.25) scale(0.8 1)" text-anchor="middle" stroke="#000" stroke-width="0.3">27</text></g>
</svg></body></html>
